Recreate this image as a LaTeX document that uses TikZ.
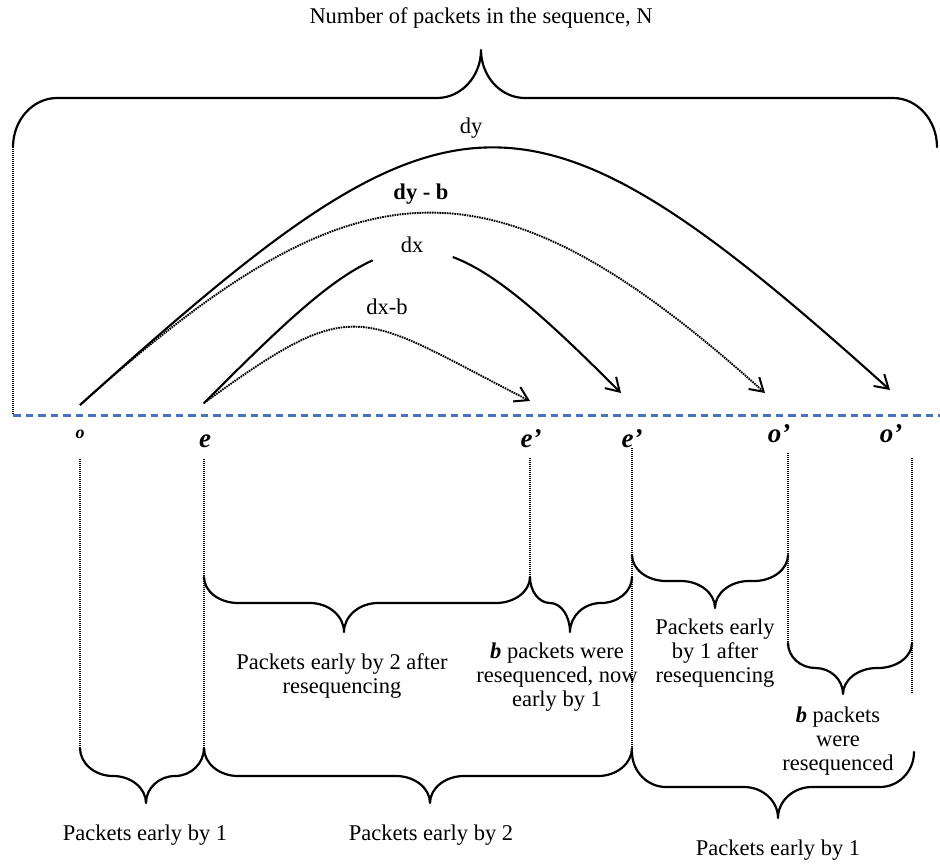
\documentclass[tikz,border=0pt]{standalone}
\usepackage{fontspec}
\setmainfont{Liberation Serif}
\usetikzlibrary{arrows.meta}
\definecolor{seqblue}{RGB}{70,116,193}

% Curly brace between (#1,#3) and (#2,#3); bar at y=#4, tip at (#6,#5), corner radius #7
\newcommand\hbrace[7]{%
  \pgfmathsetmacro\brL{min(#7,(#6-#1)/2)}%
  \pgfmathsetmacro\brR{min(#7,(#2-#6)/2)}%
  \pgfmathsetmacro\byA{#3+0.55*(#4-#3)}%
  \pgfmathsetmacro\byB{#4+0.45*(#5-#4)}%
  \draw[bracepath] (#1,#3) .. controls (#1,\byA) and ({#1+0.45*\brL},#4) .. ({#1+\brL},#4)
    -- ({#6-\brL},#4) .. controls ({#6-0.45*\brL},#4) and (#6,\byB) .. (#6,#5)
    .. controls (#6,\byB) and ({#6+0.45*\brR},#4) .. ({#6+\brR},#4)
    -- ({#2-\brR},#4) .. controls ({#2-0.45*\brR},#4) and (#2,\byA) .. (#2,#3);%
}

\begin{document}
\begin{tikzpicture}[x=1pt,y=-1pt,
  txt/.style={font=\fontsize{22.5}{24}\selectfont, inner sep=0pt, align=center},
  posmark/.style={font=\fontsize{27}{27}\selectfont\bfseries\itshape, inner sep=0pt, anchor=base},
  bracepath/.style={line width=2.2pt, line join=round, line cap=round},
  guide/.style={line width=1.2pt, dash pattern=on 1pt off 1pt},
  seqline/.style={seqblue, line width=3pt, dash pattern=on 7.5pt off 5pt},
  tipstyle/.style={-{Straight Barb[length=13pt,width=16pt,line width=2pt]}},
  arcsolid/.style={line width=2.1pt},
  arcdotted/.style={line width=1.9pt, dash pattern=on 1.6pt off 0.9pt}
]
\useasboundingbox (0,0) rectangle (940,863);

% sequence axis and end points of the arcs
\draw[seqline] (13,415) -- (940,415);
\coordinate (o)   at (80,405);
\coordinate (e)   at (204,403);
\coordinate (eA)  at (530,401);
\coordinate (eB)  at (621,393);
\coordinate (oA)  at (765,393);
\coordinate (oB)  at (890,390);
\coordinate (dxL) at (372.3,260.5);
\coordinate (dxR) at (452.7,257);

% title and the brace over the whole sequence
\node[txt] (title) at (481,18) {Number of packets in the sequence, N};
\hbrace{13}{937}{147}{98}{50}{481}{44}
\draw[guide] (13,147) -- (13,415);

% displacement arcs
\draw[arcsolid, tipstyle] (o) .. controls (450,72) and (520,57) .. (oB);
\draw[arcdotted, tipstyle] (o) .. controls (356,157) and (489,145) .. (oA);
\draw[arcsolid, line cap=round] (e) .. controls (278.9,328.1) and (328.5,280.3) .. (dxL);
\draw[arcsolid, tipstyle] (dxR) .. controls (496.4,273.2) and (546.1,318.1) .. (eB);
\draw[arcdotted, tipstyle] (e) .. controls (358,291) and (357,313) .. (eA);

\node[txt] (dy)  at (471,128) {dy};
\node[txt] (dyb) at (421,194) {\textbf{dy - b}};
\node[txt] (dx)  at (412,245) {dx};
\node[txt] (dxb) at (387,307) {dx-b};

% positions on the axis
\node[posmark, font=\fontsize{18}{18}\selectfont\bfseries\itshape] (po) at (80,438) {o};
\node[posmark] (pe)  at (205,447) {e};
\node[posmark] (peA) at (531,447) {e’};
\node[posmark] (peB) at (632,447) {e’};
\node[posmark] (poA) at (779,442) {o’};
\node[posmark] (poB) at (891,442) {o’};

% dotted drop lines
\draw[guide] (80,459) -- (80,748);
\draw[guide] (204,459) -- (204,748);
\draw[guide] (530,458) -- (530,577);
\draw[guide] (632,448) -- (632,752);
\draw[guide] (788,453) -- (788,643);
\draw[guide] (912,458) -- (912,694);

% braces below the axis
\hbrace{204}{530}{577}{603}{632}{344}{34}
\hbrace{530}{632}{577}{603}{632}{570}{34}
\hbrace{632}{788}{555}{581}{608}{715}{34}
\hbrace{788}{912}{643}{668}{694}{843}{34}
\hbrace{80}{204}{748}{776}{803}{146}{34}
\hbrace{204}{632}{748}{776}{803}{430}{34}
\hbrace{632}{914}{752}{787}{818}{778}{34}

% brace labels
\node[txt] (l1) at (342,676) {Packets early by 2 after\\resequencing};
\node[txt] (l2) at (557,677) {\textbf{\textit{b}} packets were\\resequenced, now\\early by 1};
\node[txt] (l3) at (715,653) {Packets early\\by 1 after\\resequencing};
\node[txt] (l4) at (838,741) {\textbf{\textit{b}} packets\\were\\resequenced};
\node[txt] (l5) at (145,835) {Packets early by 1};
\node[txt] (l6) at (431,835) {Packets early by 2};
\node[txt] (l7) at (778,850) {Packets early by 1};
\end{tikzpicture}
\end{document}
